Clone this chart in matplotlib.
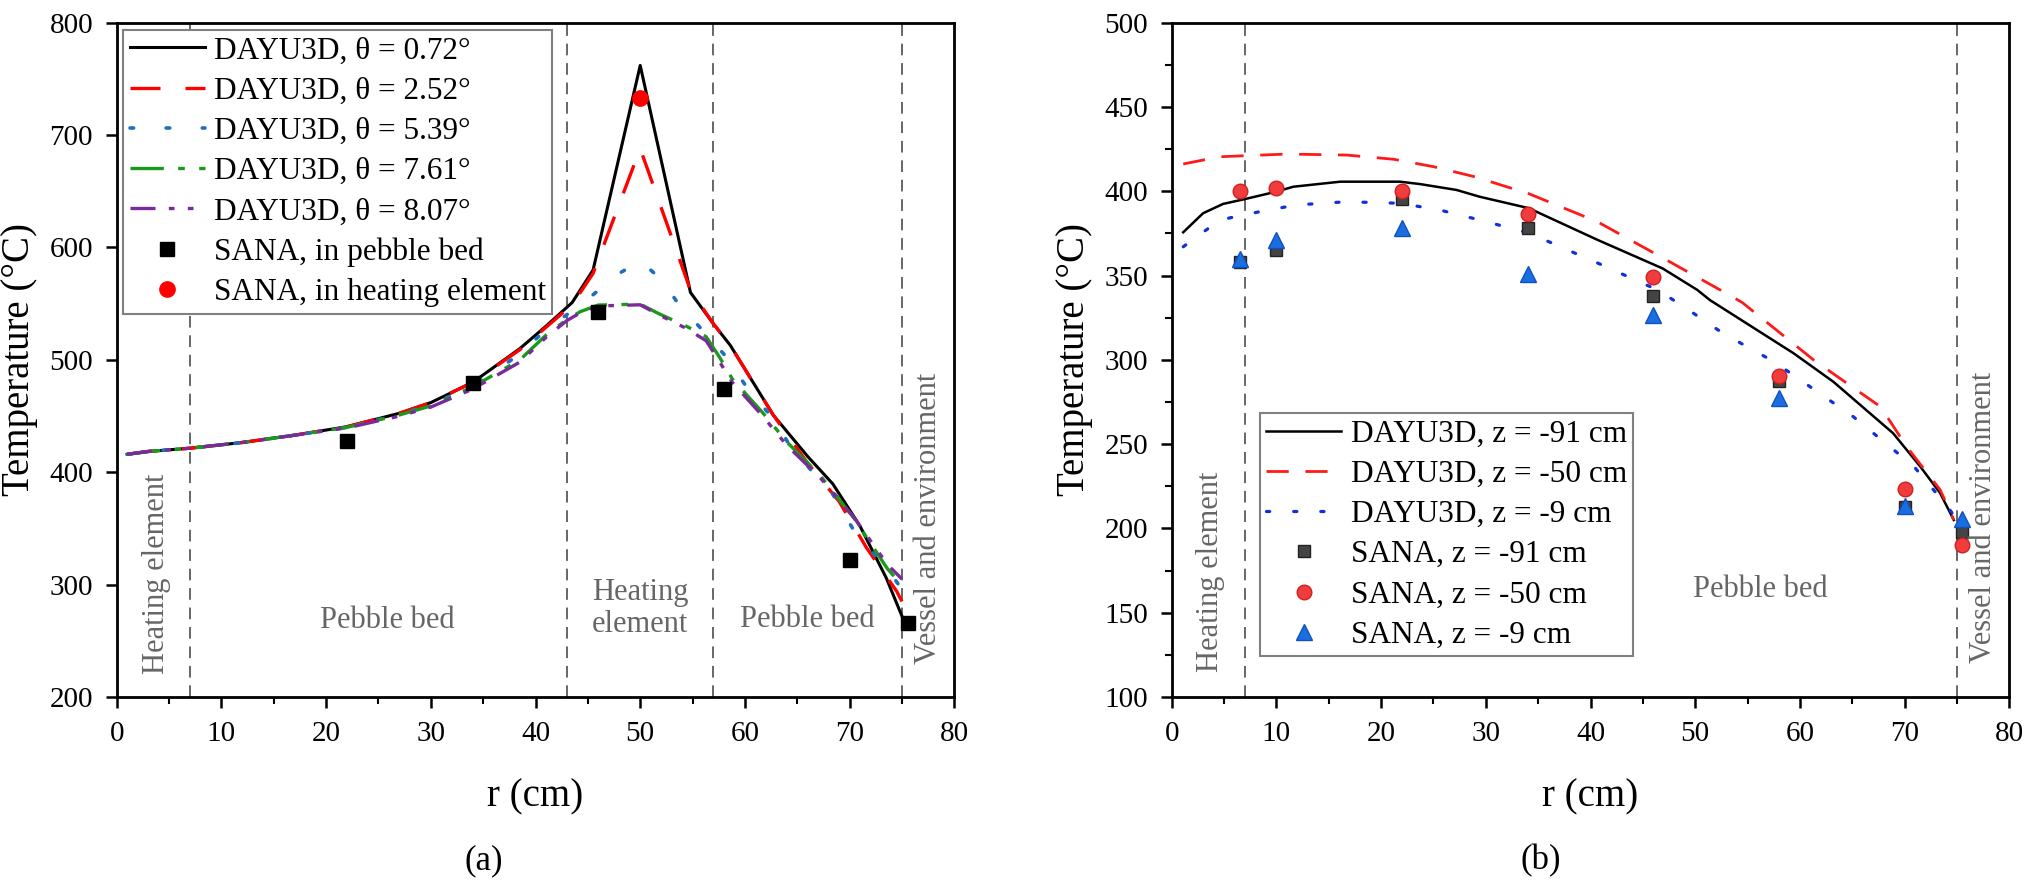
import matplotlib
matplotlib.use('Agg')
import matplotlib.pyplot as plt
from matplotlib.ticker import MultipleLocator

plt.rcParams['font.family'] = ['Liberation Serif', 'DejaVu Serif']

# ---- (a) data: temperature vs radius for different theta ----
r_07 = [1, 3, 7, 12, 17, 22, 27, 30, 34, 38.5, 41, 43.5, 45.5, 50, 54.8, 57, 58.6, 62.7, 66, 68.4, 71, 73.5, 75]
t_07 = [416, 418.5, 421.4, 426.5, 433, 440.6, 452.5, 462, 480, 510, 530, 551, 580, 762, 560, 532, 513, 451, 414, 389.6, 352, 306, 272]

r_25 = [1, 3, 7, 12, 17, 22, 27, 30, 34, 38.5, 41, 43.5, 45.5, 50, 54.8, 57, 58.6, 62.7, 66, 69, 71.6, 74.5, 75]
t_25 = [416, 418.5, 421.4, 426.5, 433, 440.6, 452.5, 462, 480, 509, 529, 549, 577, 688, 562, 532, 513, 451, 408, 374, 333, 294, 285]

r_53 = [1, 3, 7, 12, 17, 22, 27, 30, 34, 38.5, 40.2, 42.4, 45.5, 48, 50, 52.1, 53.7, 55.6, 58, 60.6, 62.9, 64.2, 66.4, 68.3, 70.6, 73.6, 75.3]
t_53 = [416, 418.5, 421.4, 426.5, 433, 440, 451.5, 460, 477, 505, 520, 536, 558, 577, 588, 571, 549, 530, 505, 470, 446, 425, 401, 382, 345, 314, 292]

r_76 = [1, 3, 7, 12, 17, 22, 27, 30, 34, 38.5, 41, 43, 44.3, 46, 50, 51.8, 54.4, 56.3, 57.6, 58.8, 61.7, 64, 67.2, 70.4, 73.6, 75]
t_76 = [416, 418.5, 421.4, 426.5, 433, 440, 451, 459, 476, 500, 522, 536, 543, 548.8, 549.6, 541, 530, 520.6, 502, 483, 453, 427, 397, 359.4, 314.3, 299.4]

r_80 = [1, 3, 7, 12, 17, 22, 27, 30, 34, 38.5, 41, 43, 44.3, 46, 50, 51.8, 54.4, 56.3, 57.6, 58.8, 61.7, 64, 67.2, 70.4, 73.6, 75]
t_80 = [416, 418.5, 421.4, 426.5, 433, 439.5, 450, 458, 474, 498, 520, 535, 542, 548, 549, 540, 528, 517, 498, 480, 450, 424, 395, 360, 318, 305]

r_pb = [22, 34, 46, 58, 70, 75.6]
t_pb = [428, 479, 543, 473.8, 322, 266]
r_he = [50]
t_he = [733]

# ---- (b) data: temperature vs radius for different heights ----
r_z91 = [1.1, 3, 4.9, 7, 10, 11.6, 16.1, 21.8, 23.7, 27.2, 29.4, 34.1, 40.7, 46.9, 50.2, 51.4, 59.4, 63.2, 68.9, 71.5, 73.4, 74.7]
t_z91 = [375.7, 387, 392.5, 395.4, 399.8, 402.7, 405.7, 405.7, 404.3, 400.8, 396.8, 390, 371.1, 354.2, 341.5, 335.5, 303.9, 287, 256.5, 236.7, 220.9, 205]

r_z50 = [1.1, 4.6, 11, 16.7, 21.2, 25, 28.9, 34.1, 40.7, 46.9, 53.1, 54.5, 61.3, 67.7, 70.2, 73.4, 74.7]
t_z50 = [416.2, 420.5, 422.1, 421.5, 419, 414.6, 408.7, 398.6, 381.8, 360.5, 339, 334, 300, 272.2, 248.5, 222.9, 205]

r_z9 = [1.1, 4.6, 8.4, 11.9, 16.7, 21.8, 25.6, 29.4, 34.1, 40.7, 46.4, 48.9, 52.6, 57.5, 65.1, 70.9, 74.1, 75]
t_z9 = [367.1, 383, 387.9, 391.9, 393.8, 392.9, 388.9, 383, 375.3, 357.4, 341.5, 331.6, 316, 299, 266.3, 236.7, 213, 205]

r_sana = [6.5, 10, 22, 34, 46, 58, 70, 75.5]
sana_z91 = [358, 365, 395.4, 378.5, 337.6, 287.5, 213, 197.9]
sana_z50 = [400.2, 402, 400.2, 386.4, 348.9, 290.6, 223.3, 190]
sana_z9 = [359.7, 371, 378, 351, 326.6, 277.3, 213.3, 205.5]

fig = plt.figure(figsize=(20.3, 8.84), dpi=100)
ax1 = fig.add_axes([0.0575, 0.2115, 0.4126, 0.7628])
ax2 = fig.add_axes([0.5772, 0.2115, 0.4126, 0.7628])

GRAY = '#666666'
TXT = 22
LEG = 22.5


def style_axes(ax):
    for s in ax.spines.values():
        s.set_linewidth(2.0)
    ax.tick_params(which='major', direction='out', length=8, width=1.8, labelsize=21, pad=9)
    ax.tick_params(which='minor', direction='out', length=5, width=1.5)
    ax.tick_params(top=False, right=False, which='both')
    ax.set_xlim(0, 80)
    ax.xaxis.set_major_locator(MultipleLocator(10))
    ax.xaxis.set_minor_locator(MultipleLocator(5))
    ax.set_xlabel('r (cm)', fontsize=28)
    ax.set_ylabel('Temperature (°C)', fontsize=28)
    ax.xaxis.set_label_coords(0.5, -0.12)
    ax.yaxis.set_label_coords(-0.094, 0.5)


def vline(ax, x):
    ax.axvline(x, color=GRAY, lw=1.4, dashes=(6, 4), zorder=1)


def make_legend(ax, **kw):
    leg = ax.legend(borderaxespad=0, fontsize=LEG, handlelength=2.4, handletextpad=0.3,
                    labelspacing=0.36, borderpad=0.2, fancybox=False, edgecolor='#808080',
                    framealpha=1, numpoints=1, **kw)
    leg.get_frame().set_linewidth(1.5)
    return leg


# ---------- (a) ----------
for x in [7, 43, 57, 75]:
    vline(ax1, x)

ax1.plot(r_07, t_07, color='black', lw=2.2, label='DAYU3D, θ = 0.72°')
ax1.plot(r_25, t_25, color='#ff0000', lw=2.4, dashes=(9, 7.5), label='DAYU3D, θ = 2.52°')
ax1.plot(r_53, t_53, color='#1f6fbf', lw=2.6, dashes=(1, 9), dash_capstyle='round', label='DAYU3D, θ = 5.39°')
ax1.plot(r_76, t_76, color='#1a9a1a', lw=2.4, dashes=(10, 4.3, 2, 4.3), label='DAYU3D, θ = 7.61°')
ax1.plot(r_80, t_80, color='#7a2a9a', lw=2.4, dashes=(7.5, 4, 1.7, 4, 1.7, 4), label='DAYU3D, θ = 8.07°')
ax1.plot(r_pb, t_pb, 's', color='black', ms=9.5, ls='none', label='SANA, in pebble bed')
ax1.plot(r_he, t_he, 'o', color='#ff0000', ms=11, ls='none', label='SANA, in heating element')

ax1.set_ylim(200, 800)
ax1.yaxis.set_major_locator(MultipleLocator(100))
style_axes(ax1)

ax1.text(3.8, 310, 'Heating element', rotation=90, ha='center', va='center', fontsize=TXT, color=GRAY)
ax1.text(25.8, 268, 'Pebble bed', ha='center', va='center', fontsize=TXT, color=GRAY)
ax1.text(50, 279, 'Heating\nelement', ha='center', va='center', fontsize=TXT, color=GRAY, linespacing=1.15)
ax1.text(66, 269, 'Pebble bed', ha='center', va='center', fontsize=TXT, color=GRAY)
ax1.text(77.5, 359, 'Vessel and environment', rotation=90, ha='center', va='center', fontsize=TXT, color=GRAY)

make_legend(ax1, loc='upper left', bbox_to_anchor=(0.008, 0.989))

# ---------- (b) ----------
for x in [7, 75]:
    vline(ax2, x)

ax2.plot(r_z91, t_z91, color='black', lw=1.8, label='DAYU3D, z = -91 cm')
ax2.plot(r_z50, t_z50, color='#ff1a1a', lw=2.0, dashes=(8, 6), label='DAYU3D, z = -50 cm')
ax2.plot(r_z9, t_z9, color='#1030e0', lw=2.3, dashes=(1, 7.5), dash_capstyle='round', label='DAYU3D, z = -9 cm')
ax2.plot(r_sana, sana_z91, 's', color='#444444', mec='#222222', ms=8, ls='none', label='SANA, z = -91 cm')
ax2.plot(r_sana, sana_z50, 'o', color='#f03c3c', mec='#d02020', ms=10.5, ls='none', label='SANA, z = -50 cm')
ax2.plot(r_sana, sana_z9, '^', color='#1a6ee0', mec='#1050c0', ms=11, ls='none', label='SANA, z = -9 cm')

ax2.set_ylim(100, 500)
ax2.yaxis.set_major_locator(MultipleLocator(50))
ax2.yaxis.set_minor_locator(MultipleLocator(25))
style_axes(ax2)

ax2.text(3.66, 174.5, 'Heating element', rotation=90, ha='center', va='center', fontsize=TXT, color=GRAY)
ax2.text(56.2, 164, 'Pebble bed', ha='center', va='center', fontsize=TXT, color=GRAY)
ax2.text(77.5, 206.5, 'Vessel and environment', rotation=90, ha='center', va='center', fontsize=TXT, color=GRAY)

make_legend(ax2, loc='lower left', bbox_to_anchor=(0.1054, 0.0608))

fig.text(0.2384, 0.026, '(a)', ha='center', va='center', fontsize=25)
fig.text(0.7591, 0.026, '(b)', ha='center', va='center', fontsize=25)

fig.savefig('out.png', dpi=100)
